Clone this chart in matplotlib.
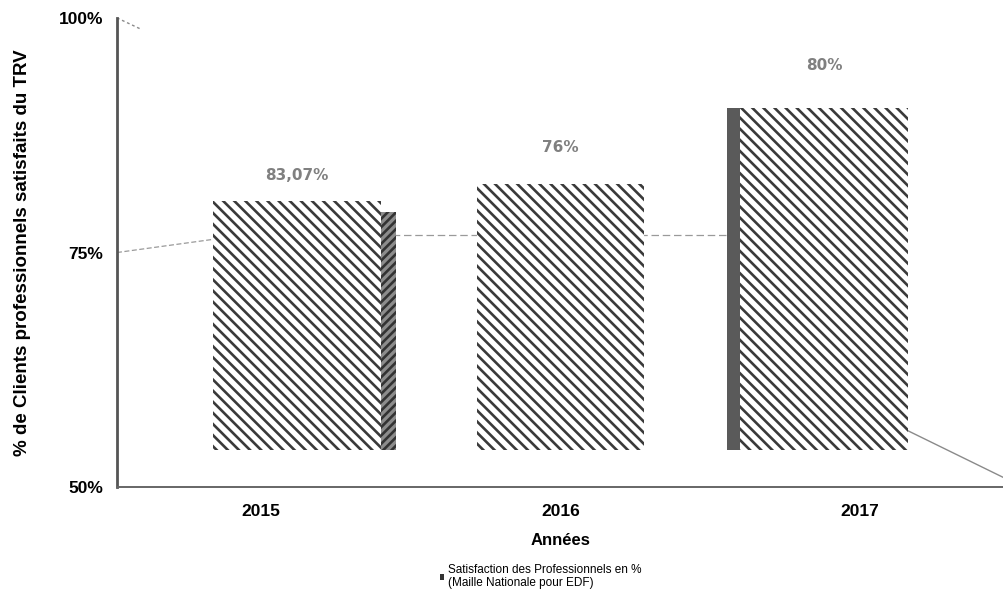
import matplotlib.pyplot as plt
from matplotlib.patches import Patch

plt.rcParams['font.family'] = ['Liberation Sans', 'DejaVu Sans']

years = ["2015", "2016", "2017"]
# bar tops as they appear in the scan, and the printed labels
bar_tops = [80.5, 82.3, 90.4]
bar_base = 54.0
value_labels = ["83,07%", "76%", "80%"]
y_ticks = [50, 75, 100]
y_tick_labels = ["50%", "75%", "100%"]

fig = plt.figure(figsize=(10.04, 5.97), dpi=100)
ax = fig.add_axes([0.1165, 0.184, 0.8835, 0.786])

hatch_col = "#3a3a3a"
plt.rcParams['hatch.linewidth'] = 1.9

# perspective offsets of the bars versus the year ticks
shifts = [0.12, 0.0, -0.12]
width = 0.56
side = ["right", None, "left"]
label_pad = [18, 29, 35]

xs = [i + s for i, s in enumerate(shifts)]

# faint gridline in perspective
ax.plot([-0.48, xs[0] - width / 2], [75, 76.4], color="#9a9a9a", lw=0.9, ls=(0, (4, 2)), zorder=1)
ax.plot([xs[0] + width / 2, xs[2] - width / 2], [76.9, 76.9], color="#9a9a9a", lw=0.9, ls=(0, (6, 3)), zorder=1)
ax.plot([-0.48, -0.40], [100, 98.8], color="#8a8a8a", lw=1.0, ls=(0, (2, 2)), zorder=1)
ax.plot([xs[2] + width / 2, 2.48], [bar_base + 2, 51.0], color="#8a8a8a", lw=1.0, zorder=1)

bars = ax.bar(xs, [t - bar_base for t in bar_tops], bottom=bar_base, width=width,
              color="white", edgecolor=hatch_col, hatch="\\\\\\", linewidth=0, zorder=3)

for x, top, sd in zip(xs, bar_tops, side):
    if sd == "right":
        ax.bar(x + width / 2 + 0.025, top - bar_base - 1.2, bottom=bar_base, width=0.05,
               color="#8c8c8c", edgecolor="#333333", hatch="////", linewidth=0, zorder=3)
    elif sd == "left":
        ax.bar(x - width / 2 - 0.022, top - bar_base, bottom=bar_base, width=0.045,
               color="#5a5a5a", linewidth=0, zorder=3)

for x, top, lab, pad in zip(xs, bar_tops, value_labels, label_pad):
    ax.annotate(lab, (x, top), xytext=(0, pad), textcoords="offset pixels",
                ha="center", va="bottom", fontsize=11, fontweight="bold", color="#808080",
                family="DejaVu Sans")

ax.set_xlim(-0.48, 2.48)
ax.set_ylim(50, 100)
ax.set_xticks(range(len(years)))
ax.set_xticklabels(years, fontsize=12.5, fontweight="bold")
ax.set_yticks(y_ticks)
ax.set_yticklabels(y_tick_labels, fontsize=12.5, fontweight="bold")
ax.tick_params(axis="x", length=0, pad=12)
ax.tick_params(axis="y", length=0, pad=10)

for s in ["top", "right"]:
    ax.spines[s].set_visible(False)
ax.spines["left"].set_color("#555555")
ax.spines["left"].set_linewidth(2)
ax.spines["bottom"].set_color("#666666")
ax.spines["bottom"].set_linewidth(1.4)

ax.set_xlabel("Années", fontsize=12, fontweight="bold", labelpad=10)
ax.set_ylabel("% de Clients professionnels satisfaits du TRV", fontsize=13.5, fontweight="bold", labelpad=20)

handle = Patch(facecolor="#333333", edgecolor="#333333", linewidth=0)
fig.legend([handle], ["Satisfaction des Professionnels en %\n(Maille Nationale pour EDF)"],
           loc="upper left", bbox_to_anchor=(0.432, 0.066), frameon=False, fontsize=8.5,
           handlelength=0.4, handleheight=0.4, handletextpad=0.3, borderpad=0, labelspacing=0.6)

fig.savefig("out.png", dpi=100)
